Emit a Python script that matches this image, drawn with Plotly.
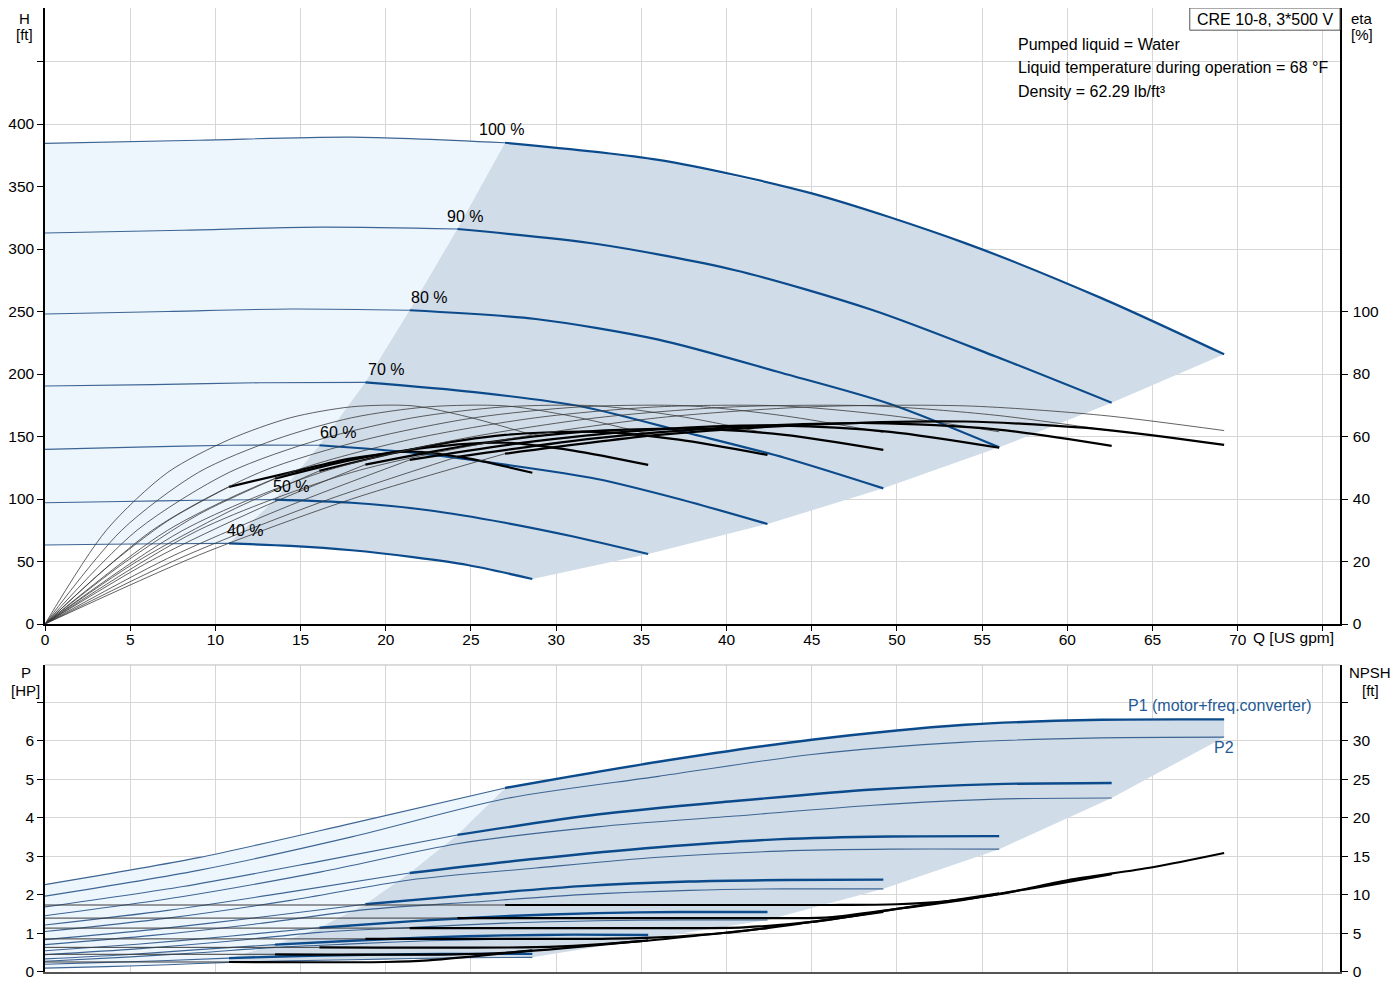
import plotly.graph_objects as go

# speed curves, 40 % ... 100 %
speeds = [40, 50, 60, 70, 80, 90, 100]

# flow points per speed [US gpm]; index 3 = min flow, last = max flow
flow = [
    [0, 3.6, 7.2, 10.8, 14.4, 18.0, 21.6, 24.8, 28.6],
    [0, 4.5, 9.0, 13.5, 18.0, 22.5, 27.0, 31.0, 35.4],
    [0, 5.4, 10.8, 16.1, 21.6, 27.0, 32.4, 37.2, 42.4],
    [0, 6.3, 12.6, 18.8, 25.2, 31.5, 37.8, 43.4, 49.2],
    [0, 7.2, 14.4, 21.4, 28.8, 36.0, 43.2, 49.6, 56.0],
    [0, 8.1, 16.2, 24.2, 32.4, 40.5, 48.6, 55.8, 62.6],
    [0, 9.0, 18.0, 27.0, 36.0, 45.0, 54.0, 62.0, 69.2],
]

# head [ft]
head = [
    [63.2, 63.8, 64.2, 64.5, 62.5, 59.0, 53.5, 47.2, 36.0],
    [97.0, 98.0, 99.0, 99.5, 97.0, 91.0, 81.0, 70.0, 56.0],
    [139.7, 141.5, 143.0, 143.0, 137.0, 127.5, 116.0, 100.0, 80.0],
    [190.4, 191.5, 193.0, 193.3, 185.5, 174.0, 152.6, 133.0, 108.5],
    [248.0, 250.0, 252.0, 251.0, 244.0, 227.5, 201.0, 176.0, 141.3],
    [312.8, 315.0, 317.5, 316.0, 304.0, 283.0, 251.0, 214.0, 177.0],
    [384.5, 387.0, 389.5, 385.0, 371.3, 344.5, 304.7, 260.7, 215.7],
]

# pump efficiency [%] (thin)
eta_pump = [
    [0, 30.0, 48.5, 59.0, 66.0, 69.5, 69.8, 66.3, 60.5],
    [0, 30.0, 48.5, 59.0, 66.0, 69.5, 69.8, 66.4, 60.8],
    [0, 30.0, 48.5, 59.0, 66.0, 69.5, 69.8, 66.5, 61.0],
    [0, 30.0, 48.5, 59.0, 66.0, 69.5, 69.8, 66.6, 61.3],
    [0, 30.0, 48.5, 59.0, 66.0, 69.5, 69.8, 66.7, 61.5],
    [0, 30.0, 48.5, 59.0, 66.0, 69.5, 69.8, 66.8, 61.8],
    [0, 30.0, 48.5, 59.0, 66.0, 69.5, 69.8, 66.8, 61.9],
]

# total efficiency [%] (thin below min flow, thick above)
eta_total = [
    [0, 18.0, 33.0, 43.9, 48.5, 53.0, 55.2, 53.0, 48.4],
    [0, 19.0, 35.0, 46.5, 52.5, 56.5, 58.0, 55.5, 50.9],
    [0, 20.0, 36.0, 49.0, 56.0, 60.5, 61.5, 59.0, 54.1],
    [0, 20.5, 37.0, 51.0, 57.5, 61.5, 62.5, 60.5, 55.7],
    [0, 21.0, 38.0, 52.5, 58.5, 62.3, 63.5, 61.5, 56.4],
    [0, 21.5, 39.0, 53.5, 59.5, 63.0, 64.3, 62.3, 57.0],
    [0, 22.0, 40.0, 54.5, 60.5, 63.8, 64.8, 62.3, 57.3],
]

# P1 (motor + freq. converter) [HP]
p1 = [
    [0.20, 0.25, 0.30, 0.36, 0.41, 0.44, 0.46, 0.47, 0.47],
    [0.34, 0.44, 0.58, 0.71, 0.81, 0.90, 0.95, 0.97, 0.96],
    [0.55, 0.72, 0.93, 1.15, 1.32, 1.45, 1.53, 1.56, 1.56],
    [0.84, 1.10, 1.42, 1.76, 2.01, 2.23, 2.35, 2.39, 2.40],
    [1.22, 1.60, 2.08, 2.57, 2.94, 3.24, 3.45, 3.52, 3.53],
    [1.69, 2.22, 2.88, 3.56, 4.09, 4.44, 4.74, 4.88, 4.91],
    [2.27, 2.97, 3.86, 4.78, 5.46, 6.03, 6.42, 6.55, 6.56],
]

# P2 [HP]
p2 = [
    [0.10, 0.14, 0.19, 0.25, 0.29, 0.32, 0.35, 0.37, 0.38],
    [0.28, 0.38, 0.50, 0.64, 0.73, 0.81, 0.85, 0.87, 0.87],
    [0.45, 0.60, 0.80, 1.03, 1.16, 1.27, 1.33, 1.35, 1.35],
    [0.71, 0.95, 1.26, 1.62, 1.82, 2.01, 2.12, 2.16, 2.16],
    [1.05, 1.40, 1.86, 2.39, 2.70, 2.98, 3.14, 3.19, 3.19],
    [1.46, 1.96, 2.60, 3.33, 3.77, 4.05, 4.33, 4.49, 4.52],
    [1.97, 2.64, 3.51, 4.50, 5.08, 5.65, 5.97, 6.08, 6.10],
]

# NPSH [ft]; index 1 = min flow
npsh_q = [
    [0, 10.8, 20.0, 22.5, 25.0, 28.6],
    [0, 13.5, 24.0, 27.0, 30.0, 35.4],
    [0, 16.1, 28.0, 31.0, 35.0, 42.4],
    [0, 18.8, 32.0, 36.0, 40.0, 45.0, 49.2],
    [0, 21.4, 37.0, 41.0, 45.0, 50.0, 56.0],
    [0, 24.2, 42.0, 46.0, 50.0, 54.0, 58.0, 62.6],
    [0, 27.0, 46.0, 50.0, 53.0, 56.0, 60.0, 65.0, 69.2],
]
npsh_v = [
    [1.3, 1.3, 1.3, 1.5, 2.0, 2.8],
    [2.3, 2.3, 2.3, 2.5, 3.0, 4.1],
    [3.2, 3.2, 3.2, 3.4, 4.0, 5.7],
    [4.3, 4.3, 4.3, 4.5, 5.1, 6.5, 7.8],
    [5.7, 5.7, 5.7, 5.8, 6.5, 8.2, 10.2],
    [7.0, 7.0, 7.0, 7.1, 8.2, 9.4, 10.9, 12.7],
    [8.7, 8.7, 8.7, 8.8, 9.2, 10.1, 11.9, 13.6, 15.45],
]

q_ticks = [0, 5, 10, 15, 20, 25, 30, 35, 40, 45, 50, 55, 60, 65, 70, 75]
q_labels = ['0', '5', '10', '15', '20', '25', '30', '35', '40', '45', '50', '55', '60', '65', '70', '']
h_ticks = [0, 50, 100, 150, 200, 250, 300, 350, 400, 450]
h_labels = ['0', '50', '100', '150', '200', '250', '300', '350', '400', '']
eta_ticks = [0, 20, 40, 60, 80, 100]
p_ticks = [0, 1, 2, 3, 4, 5, 6, 7]
p_labels = ['0', '1', '2', '3', '4', '5', '6', '']
npsh_ticks = [0, 5, 10, 15, 20, 25, 30, 35]
npsh_labels = ['0', '5', '10', '15', '20', '25', '30', '']

BLUE = '#0b4a8b'
THIN_BLUE = '#3d6593'
LIGHT = '#edf5fd'
DARK = '#d0dce8'
GRID = '#d6d6d6'
FONT = 'Liberation Sans, Arial, sans-serif'

fig = go.Figure()


def add_line(x, y, xa, ya, color, width):
    fig.add_trace(go.Scatter(x=x, y=y, xaxis=xa, yaxis=ya, mode='lines', hoverinfo='skip',
                             line=dict(color=color, width=width, shape='spline', smoothing=0.8)))


def add_fill(x, y, xa, ya, color):
    fig.add_trace(go.Scatter(x=x, y=y, xaxis=xa, yaxis=ya, mode='lines', fill='toself',
                             fillcolor=color, line=dict(width=0), hoverinfo='skip'))


n = len(speeds)
top = n - 1
down = list(range(n - 2, -1, -1))

# --- shaded areas, QH panel
add_fill(flow[top][:4] + [flow[i][3] for i in down] + flow[0][3::-1],
         head[top][:4] + [head[i][3] for i in down] + head[0][3::-1], 'x', 'y', LIGHT)
add_fill([flow[i][3] for i in range(n)] + flow[top][4:] + [flow[i][8] for i in down] + flow[0][7:3:-1],
         [head[i][3] for i in range(n)] + head[top][4:] + [head[i][8] for i in down] + head[0][7:3:-1],
         'x', 'y', DARK)

# --- shaded areas, power panel
add_fill(flow[top][:4] + [flow[i][3] for i in down] + flow[0][3::-1],
         p1[top][:4] + [p1[i][3] for i in down] + p2[0][3::-1], 'x2', 'y3', LIGHT)
add_fill([flow[i][3] for i in range(n)] + flow[top][4:] + [flow[top][8]] + [flow[i][8] for i in down] + flow[0][7:2:-1],
         [p1[i][3] for i in range(n)] + p1[top][4:] + [p2[top][8]] + [p2[i][8] for i in down] + p2[0][7:2:-1],
         'x2', 'y3', DARK)

# --- curves
for i in range(n):
    q = flow[i]
    # efficiency
    add_line(q, eta_pump[i], 'x', 'y2', '#3a3a3a', 0.8)
    add_line(q[:4], eta_total[i][:4], 'x', 'y2', '#3a3a3a', 0.8)
    add_line(q[3:], eta_total[i][3:], 'x', 'y2', 'black', 2.2)
    # head
    add_line(q[:4], head[i][:4], 'x', 'y', THIN_BLUE, 1.1)
    add_line(q[3:], head[i][3:], 'x', 'y', BLUE, 2.2)
    # power
    add_line(q, p2[i], 'x2', 'y3', THIN_BLUE, 1.1)
    add_line(q[:4], p1[i][:4], 'x2', 'y3', THIN_BLUE, 1.1)
    add_line(q[3:], p1[i][3:], 'x2', 'y3', BLUE, 2.4)
    # npsh
    add_line(npsh_q[i][:2], npsh_v[i][:2], 'x2', 'y4', '#3a3a3a', 1)
    add_line(npsh_q[i][1:], npsh_v[i][1:], 'x2', 'y4', 'black', 2.2)

# --- texts
tf = dict(family=FONT, size=16, color='black')
tickf = dict(family=FONT, size=15.5, color='black')
blue_f = dict(family=FONT, size=16, color='#1f5a96')
ann = []
label_shift = [-4, -4, -1, 1, -1, -12, -28]
for i in range(n):
    ann.append(dict(x=flow[i][3], y=head[i][3], xref='x', yref='y', text=f'{speeds[i]} %',
                    showarrow=False, xanchor='left', yanchor='middle', xshift=label_shift[i],
                    yshift=13, font=tf))


def corner(text, x, y):
    return dict(x=x, y=y, xref='paper', yref='paper', text=text, showarrow=False,
                xanchor='center', yanchor='middle', font=dict(family=FONT, size=15, color='black'))


ann += [
    corner('H', -0.0155, 0.9896),
    corner('[ft]', -0.0155, 0.9730),
    corner('eta', 1.0170, 0.9896),
    corner('[%]', 1.0170, 0.9730),
    corner('P', -0.0150, 0.3112),
    corner('[HP]', -0.0150, 0.2925),
    corner('NPSH', 1.0232, 0.3112),
    corner('[ft]', 1.0232, 0.2925),
    dict(x=0.942, y=0.9885, xref='paper', yref='paper', text='CRE 10-8, 3*500 V', showarrow=False,
         xanchor='center', yanchor='middle', font=tf),
    dict(x=57.0, y=464, xref='x', yref='y', text='Pumped liquid = Water', showarrow=False,
         xanchor='left', yanchor='middle', font=tf),
    dict(x=57.0, y=445, xref='x', yref='y', text='Liquid temperature during operation = 68 °F',
         showarrow=False, xanchor='left', yanchor='middle', font=tf),
    dict(x=57.0, y=426, xref='x', yref='y', text='Density = 62.29 lb/ft³', showarrow=False,
         xanchor='left', yanchor='middle', font=tf),
    dict(x=70.75, y=0.3465, xref='x', yref='paper', text='Q [US gpm]', showarrow=False,
         xanchor='left', yanchor='middle', font=tickf),
    dict(x=74.5, y=6.91, xref='x2', yref='y3', text='P1 (motor+freq.converter)', showarrow=False,
         xanchor='right', yanchor='middle', font=blue_f),
    dict(x=68.5, y=5.84, xref='x2', yref='y3', text='P2', showarrow=False,
         xanchor='left', yanchor='middle', font=blue_f),
]

shapes = [
    dict(type='rect', xref='paper', yref='paper', x0=0.884, x1=1.0, y0=0.977, y1=1.0,
         line=dict(color='#555555', width=1), fillcolor='white', layer='above'),
    dict(type='line', xref='paper', yref='paper', x0=0, x1=1, y0=0.3185, y1=0.3185,
         line=dict(color='#bbbbbb', width=1)),
]

axis_common = dict(showgrid=True, gridcolor=GRID, gridwidth=1, zeroline=False, showline=True,
                   linecolor='black', linewidth=1.5, ticks='outside', ticklen=6, tickcolor='black',
                   tickfont=tickf)

# the page adds an 8 px body margin, so the plot area is placed to land on 45..1340 x 0..972
fig.update_layout(
    width=1400, height=1000, showlegend=False, plot_bgcolor='white', paper_bgcolor='white',
    margin=dict(l=37, r=68, t=0, b=36), font=tf,
    xaxis=dict(axis_common, domain=[0, 1], range=[0, 76], anchor='y', tickvals=q_ticks,
               ticktext=q_labels, linewidth=2, ticklen=5, ticklabelstandoff=-5),
    yaxis=dict(axis_common, domain=[0.361, 1], range=[0, 492.8], anchor='x', tickvals=h_ticks,
               ticktext=h_labels),
    yaxis2=dict(axis_common, overlaying='y', side='right', anchor='x', range=[0, 197.12],
                tickvals=eta_ticks, showgrid=False, ticklabelstandoff=2),
    xaxis2=dict(axis_common, domain=[0, 1], range=[0, 76], anchor='y3', tickvals=q_ticks,
                showticklabels=False, ticks='', linecolor='#555555'),
    yaxis3=dict(axis_common, domain=[0, 0.3185], range=[0, 7.974], anchor='x2', tickvals=p_ticks,
                ticktext=p_labels),
    yaxis4=dict(axis_common, overlaying='y3', side='right', anchor='x2', range=[0, 39.87],
                tickvals=npsh_ticks, ticktext=npsh_labels, showgrid=False, ticklabelstandoff=2),
    annotations=ann, shapes=shapes,
)

fig.write_html('out.html')
